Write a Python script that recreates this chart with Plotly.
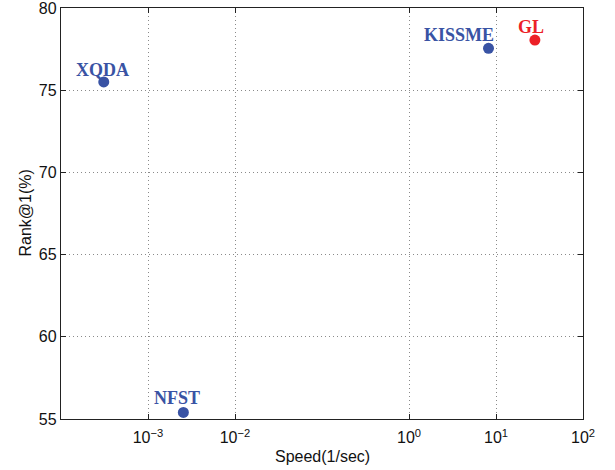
import math
import plotly.graph_objects as go

methods = ["XQDA", "NFST", "KISSME", "GL"]
speed = [3.1e-4, 2.55e-3, 8.2, 28.0]
rank1 = [75.5, 55.4, 77.55, 78.05]
colors = ["#3953A4", "#3953A4", "#3953A4", "#EC2027"]
label_dx = [-1, -6, -30, -4]
label_dy = [12, 14, 13, 13]

xtick_vals = [1e-3, 1e-2, 1e0, 1e1, 1e2]
xtick_text = ["10<sup>−3</sup>", "10<sup>−2</sup>", "10<sup>0</sup>", "10<sup>1</sup>", "10<sup>2</sup>"]
ytick_vals = [55, 60, 65, 70, 75, 80]

fig = go.Figure()
fig.add_trace(go.Scatter(
    x=speed, y=rank1, mode="markers",
    marker=dict(size=11, color=colors),
    showlegend=False, hoverinfo="skip", cliponaxis=False,
))
for m, x, y, c, dx, dy in zip(methods, speed, rank1, colors, label_dx, label_dy):
    fig.add_annotation(
        x=math.log10(x), y=y, text="<b>" + m + "</b>", showarrow=False,
        xanchor="center", yanchor="middle", xshift=dx, yshift=dy,
        font=dict(family="Liberation Serif, Times New Roman, serif", size=18, color=c),
    )

title_font = dict(family="Liberation Sans, Arial, sans-serif", size=16, color="#111")
fig.add_annotation(xref="paper", yref="paper", x=0.5, y=0, yshift=-37,
                   text="Speed(1/sec)", showarrow=False,
                   xanchor="center", yanchor="middle", font=title_font)
fig.add_annotation(xref="paper", yref="paper", x=0, y=0.5, xshift=-36,
                   text="Rank@1(%)", showarrow=False, textangle=-90,
                   xanchor="center", yanchor="middle", font=title_font)

axis_common = dict(
    showline=True, linecolor="#222", linewidth=1.3, mirror="ticks",
    ticks="inside", ticklen=5, tickcolor="#222", tickwidth=1,
    showgrid=True, gridcolor="#8a8a8a", gridwidth=1, griddash="1px,3px",
    zeroline=False, automargin=False, ticklabeloverflow="allow",
    tickfont=dict(family="Liberation Sans, Arial, sans-serif", size=16, color="#111"),
)

fig.update_xaxes(
    type="log", range=[-4, 2], tickmode="array",
    tickvals=xtick_vals, ticktext=xtick_text, ticklabelstandoff=4,
    **axis_common,
)
fig.update_yaxes(
    range=[55, 80], tickmode="array", tickvals=ytick_vals,
    **axis_common,
)

fig.update_layout(
    width=615, height=470,
    margin=dict(l=61, r=32, t=8, b=51),
    plot_bgcolor="white", paper_bgcolor="white",
)

fig.write_html("out.html", config={"displayModeBar": False},
               post_script="document.body.style.margin='0';document.body.style.overflow='hidden';")
